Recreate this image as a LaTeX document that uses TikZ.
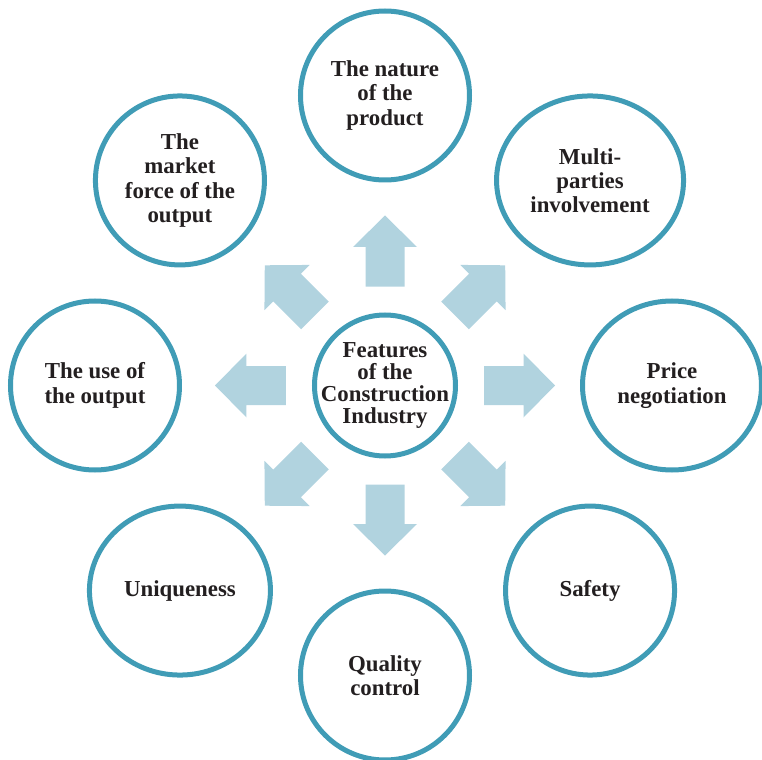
\documentclass[tikz,border=0pt]{standalone}
\usepackage{fontspec}
\setmainfont{Liberation Serif}
\usetikzlibrary{shapes.geometric}

\definecolor{ringblue}{RGB}{64,156,182}
\definecolor{arrowblue}{RGB}{177,211,223}
\definecolor{inkgray}{RGB}{35,31,32}

\begin{document}
\begin{tikzpicture}[
    font=\fontsize{13}{13.8}\selectfont\bfseries,
    % Node styles
    ring/.style={ellipse, draw=ringblue, line width=0.1cm, fill=white, text=inkgray,
        align=center, inner sep=0pt, minimum width=3.38cm, minimum height=3.38cm},
    hubring/.style={circle, draw=ringblue, line width=0.1cm, fill=white, minimum size=2.82cm},
    hubtext/.style={text=inkgray, align=center, inner sep=0pt,
        font=\fontsize{13}{12.6}\selectfont\bfseries},
    blockarrow/.style={fill=arrowblue},
]
    \useasboundingbox (-7.70,-7.47) rectangle (7.54,7.71);

    % Block arrows pointing outwards
    \foreach \a in {0,45,...,315}
        \fill[blockarrow, rotate=\a] (1.98,0.39) -- (2.77,0.39) -- (2.77,0.64) -- (3.40,0)
            -- (2.77,-0.64) -- (2.77,-0.39) -- (1.98,-0.39) -- cycle;

    % Define nodes here
    \node[hubring, label={[hubtext]center:Features\\of the\\Construction\\Industry}] (hub) at (0,0) {};

    \node[ring] (nature) at (90:5.8) {The nature\\of the\\product};
    \node[ring, minimum width=3.74cm] (parties) at (45:5.8) {Multi-\\parties\\involvement};
    \node[ring, minimum width=3.58cm] (price) at (0:5.74) {Price\\negotiation};
    \node[ring] (safety) at (-45:5.8) {Safety};
    \node[ring] (quality) at (-90:5.8) {Quality\\control};
    \node[ring, minimum width=3.62cm] (unique) at (-135:5.8) {Uniqueness};
    \node[ring] (use) at (180:5.8) {The use of\\the output};
    \node[ring] (market) at (135:5.8) {The\\market\\force of the\\output};

\end{tikzpicture}
\end{document}
